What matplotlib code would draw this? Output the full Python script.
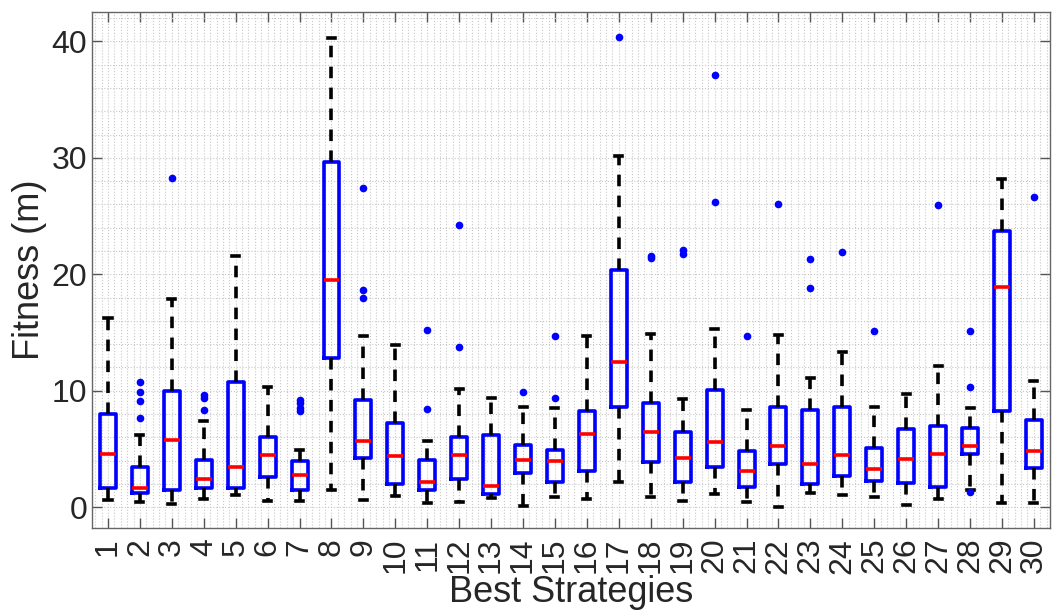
import matplotlib
matplotlib.use("Agg")
import matplotlib.pyplot as plt
from matplotlib.ticker import MultipleLocator

plt.rcParams['font.family'] = ['Liberation Sans', 'DejaVu Sans']

# per strategy box stats
labels = [str(i) for i in range(1, 31)]
lo_whisk = [0.6, 0.44, 0.27, 0.67, 1.04, 0.5, 0.54, 1.45, 0.6, 0.94,
            0.34, 0.44, 0.77, 0.1, 0.87, 0.7, 2.12, 0.87, 0.54, 1.11,
            0.44, 0.03, 1.18, 1.0, 0.87, 0.17, 0.7, 1.45, 0.34, 0.34]
q1 = [1.61, 1.21, 1.45, 1.61, 1.61, 2.55, 1.45, 12.8, 4.24, 2.02,
      1.51, 2.45, 1.11, 2.89, 2.18, 3.13, 8.57, 3.9, 2.12, 3.4,
      1.71, 3.7, 2.02, 2.69, 2.22, 2.05, 1.71, 4.57, 8.24, 3.36]
med = [4.54, 1.68, 5.75, 2.45, 3.4, 4.44, 2.79, 19.5, 5.71, 4.37,
       2.12, 4.44, 1.78, 4.07, 3.97, 6.25, 12.47, 6.49, 4.2, 5.55,
       3.13, 5.24, 3.7, 4.47, 3.23, 4.13, 4.57, 5.24, 18.92, 4.8]
q3 = [8.0, 3.4, 9.95, 4.07, 10.76, 5.98, 3.97, 29.65, 9.18, 7.23,
      4.03, 5.98, 6.22, 5.31, 4.87, 8.24, 20.4, 8.97, 6.49, 10.02,
      4.8, 8.6, 8.34, 8.57, 5.04, 6.72, 6.96, 6.76, 23.73, 7.5]
hi_whisk = [16.2, 6.15, 17.85, 7.4, 21.6, 10.3, 4.9, 40.3, 14.72, 13.9,
            5.65, 10.1, 9.34, 8.6, 8.47, 14.66, 30.15, 14.9, 9.28, 15.3,
            8.3, 14.8, 11.13, 13.3, 8.57, 9.68, 12.13, 8.5, 28.17, 10.86]
outliers = [[], [10.75, 9.9, 9.1, 7.66], [28.3], [9.6, 9.4, 8.34], [], [],
            [9.24, 8.9, 8.5, 8.27], [], [27.4, 18.66, 17.98], [],
            [15.2, 8.4], [24.2, 13.75], [], [9.85], [14.66, 9.38], [],
            [40.37], [21.6, 21.4], [22.05, 21.7], [37.08, 26.18],
            [14.69], [26.05], [21.3, 18.86], [21.9], [15.13], [],
            [25.98], [15.13, 10.29, 1.3], [], [26.6]]

stats = []
for i in range(len(labels)):
    stats.append(dict(label=labels[i], whislo=lo_whisk[i], q1=q1[i], med=med[i],
                      q3=q3[i], whishi=hi_whisk[i], fliers=outliers[i]))

fig = plt.figure(figsize=(10.53, 6.14), dpi=100)
ax = fig.add_axes([0.0874, 0.14, 0.9096, 0.84])

ax.bxp(stats, positions=range(1, 31), widths=0.5, capwidths=0.22,
       boxprops=dict(color='#0000ff', linewidth=2.6),
       medianprops=dict(color='#ff0000', linewidth=2.6),
       whiskerprops=dict(color='black', linewidth=2.6, linestyle=(0, (3.2, 2.6))),
       capprops=dict(color='black', linewidth=2.6),
       flierprops=dict(marker='o', markersize=4.5, markerfacecolor='#0000ff',
                       markeredgecolor='#0000ff', linestyle='none'))

ax.set_xlim(0.5, 30.5)
ax.set_ylim(-1.8, 42.5)
ax.set_yticks([0, 10, 20, 30, 40])
ax.yaxis.set_minor_locator(MultipleLocator(2))
ax.xaxis.set_minor_locator(MultipleLocator(0.2))
ax.grid(which='minor', linestyle=':', color='#c8c8c8', linewidth=0.8)
ax.grid(which='major', linestyle=':', color='#c8c8c8', linewidth=0.8)
ax.set_axisbelow(True)
ax.tick_params(axis='both', which='major', direction='in', length=7, width=1,
               color='#555555', top=True, right=True, labelsize=23, labelcolor='#262626')
ax.tick_params(axis='both', which='minor', length=0)
ax.tick_params(axis='x', labelrotation=90, pad=7)
for s in ax.spines.values():
    s.set_color('#666666')
    s.set_linewidth(1)

ax.set_xlabel('Best Strategies', fontsize=26, color='#262626', labelpad=1)
ax.set_ylabel('Fitness (m)', fontsize=26, color='#262626', labelpad=3)

fig.savefig('out.png', dpi=100)
